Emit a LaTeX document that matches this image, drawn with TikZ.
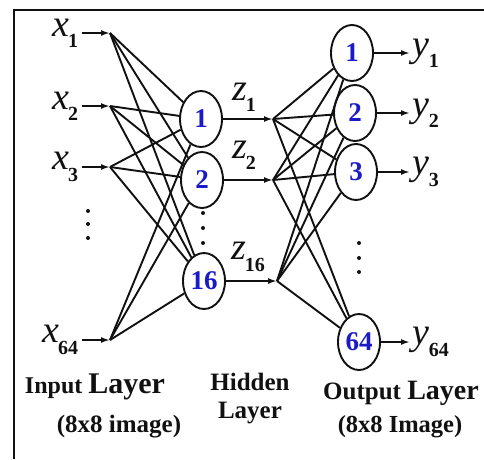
\documentclass[tikz,border=0pt]{standalone}
\usepackage{fontspec}
\setmainfont{Liberation Serif}
\usetikzlibrary{arrows.meta,shapes.geometric}
\definecolor{ink}{HTML}{111111}
\definecolor{numblue}{HTML}{1A1AC8}
\newcommand{\sublab}[2]{\textit{#1}\kern-1pt\raisebox{-0.3em}{\fontsize{20}{20}\selectfont\bfseries #2}}
\newcommand{\fsz}[1]{\fontsize{#1}{#1}\selectfont}

\begin{document}
\begin{tikzpicture}[x=1pt,y=-1pt,line width=1.9pt,ink,
    unit/.style={ellipse,draw,fill=white,minimum width=42pt,minimum height=56pt,inner sep=0pt,
      font=\fsz{27}\bfseries,text=numblue},
    varlab/.style={inner sep=0pt,font=\fsz{38}},
    flow/.style={-{Latex[length=9pt,width=6pt]}},
    caption/.style={inner sep=0pt,font=\bfseries}]
  \useasboundingbox (0,0) rectangle (484,459);
  % frame
  \draw[line width=2.2pt] (14,459) -- (14,10) -- (484,10);
  % input layer
  \node[varlab,anchor=east] (lx1) at (79,33) {\sublab{x}{1}};
  \node[varlab,anchor=east] (lx2) at (79,106) {\sublab{x}{2}};
  \node[varlab,anchor=east] (lx3) at (79,167) {\sublab{x}{3}};
  \node[varlab,anchor=east] (lx64) at (79,340) {\sublab{x}{64}};
  \coordinate (in1) at (110,33);
  \coordinate (in2) at (110,106);
  \coordinate (in3) at (110,167);
  \coordinate (in64) at (110,340);
  \foreach \i in {1,2,3,64}
    \draw[flow] ([xshift=3pt]lx\i.east) -- (in\i);
  \foreach \y in {211,224,238}
    \fill (88,\y) circle (2pt);
  % hidden layer
  \node[unit] (h1) at (201,119) {1};
  \node[unit] (h2) at (202,180) {2};
  \node[unit] (h16) at (204,281) {16};
  \foreach \y in {213,228,243}
    \fill (203,\y) circle (2pt);
  \foreach \i in {1,2,3,64}
    \foreach \j in {1,2,16}
      \draw (in\i) -- (h\j);
  \coordinate (hz1) at (273,119);
  \coordinate (hz2) at (273,180);
  \coordinate (hz16) at (277,281);
  \foreach \j in {1,2,16}
    \draw[flow] (h\j) -- (hz\j);
  \node[varlab] (lz1) at (244,97) {\sublab{z}{1}};
  \node[varlab] (lz2) at (244,155) {\sublab{z}{2}};
  \node[varlab] (lz16) at (248,257) {\sublab{z}{16}};
  % output layer
  \node[unit] (o1) at (352,53) {1};
  \node[unit] (o2) at (355,113) {2};
  \node[unit] (o3) at (356,172) {3};
  \node[unit] (o64) at (359,342) {64};
  \foreach \y in {243,258,272}
    \fill (359,\y) circle (2pt);
  \foreach \i in {1,2,16}
    \foreach \j in {1,2,3,64}
      \draw (hz\i) -- (o\j);
  \node[varlab,anchor=west] (ly1) at (412,53) {\sublab{y}{1}};
  \node[varlab,anchor=west] (ly2) at (412,113) {\sublab{y}{2}};
  \node[varlab,anchor=west] (ly3) at (412,172) {\sublab{y}{3}};
  \node[varlab,anchor=west] (ly64) at (412,342) {\sublab{y}{64}};
  \foreach \j in {1,2,3,64}
    \draw[flow] (o\j) -- ([xshift=-2pt]ly\j.west);
  % captions
  \node[caption] (cin) at (95,387) {{\fsz{24}Input }{\fsz{30}Layer}};
  \node[caption,font=\fsz{25}\bfseries] (cinimg) at (119,427) {(8x8 image)};
  \node[caption,align=center,font=\fontsize{25}{28}\selectfont\bfseries] (chid) at (250,399) {Hidden\\Layer};
  \node[caption] (cout) at (401,393) {{\fsz{25}Output }{\fsz{28}Layer}};
  \node[caption,font=\fsz{24.5}\bfseries] (coutimg) at (400,427) {(8x8 Image)};
\end{tikzpicture}
\end{document}
